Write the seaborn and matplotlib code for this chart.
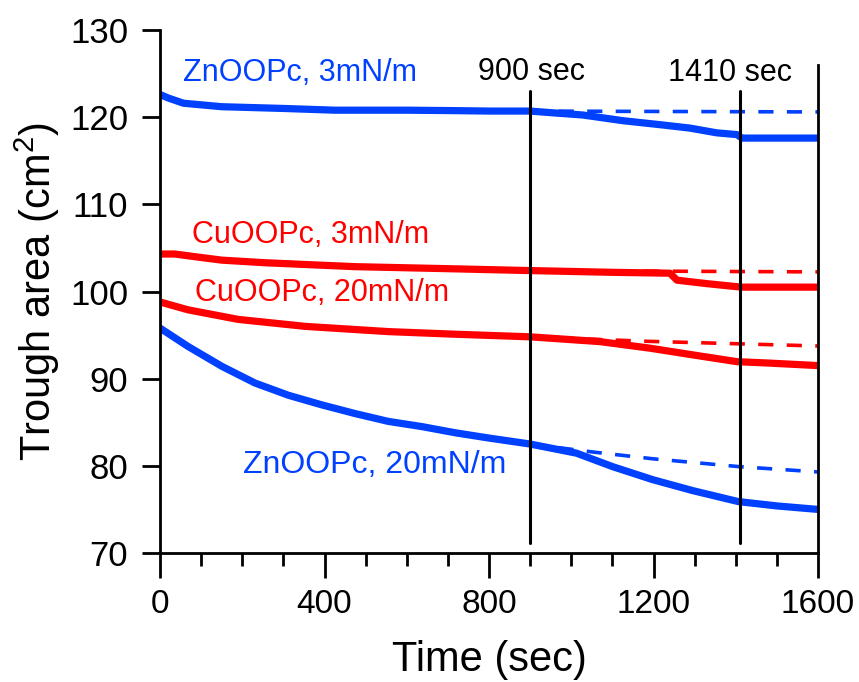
import numpy as np
import pandas as pd
import matplotlib
matplotlib.use("Agg")
import matplotlib.pyplot as plt
import seaborn as sns

# ---- data ----
zn3_t = [0, 20, 57, 150, 300, 425, 600, 717, 800, 900, 955, 1028, 1125, 1223, 1288, 1354, 1403, 1415, 1600]
zn3_v = [122.6, 122.2, 121.6, 121.2, 121.0, 120.8, 120.8, 120.75, 120.7, 120.7, 120.5, 120.25, 119.6, 119.1, 118.75, 118.2, 118.0, 117.6, 117.6]
zn3_fit_t = [900, 1600]
zn3_fit_v = [120.7, 120.6]

cu3_t = [0, 36, 100, 150, 255, 474, 717, 900, 1100, 1240, 1257, 1330, 1403, 1415, 1600]
cu3_v = [104.3, 104.3, 103.9, 103.6, 103.3, 102.85, 102.6, 102.4, 102.2, 102.1, 101.3, 100.9, 100.55, 100.5, 100.5]
cu3_fit_t = [900, 1600]
cu3_fit_v = [102.4, 102.25]

cu20_t = [0, 68, 190, 353, 555, 717, 900, 1070, 1191, 1313, 1403, 1476, 1600]
cu20_v = [98.8, 97.9, 96.8, 96.0, 95.4, 95.1, 94.8, 94.25, 93.5, 92.6, 91.95, 91.8, 91.5]
cu20_fit_t = [900, 1175, 1600]
cu20_fit_v = [94.8, 94.3, 93.75]

zn20_t = [0, 68, 151, 231, 312, 393, 474, 555, 637, 717, 798, 900, 1013, 1101, 1199, 1296, 1406, 1500, 1600]
zn20_v = [95.8, 93.7, 91.4, 89.5, 88.1, 87.0, 86.0, 85.1, 84.5, 83.8, 83.2, 82.5, 81.45, 79.9, 78.4, 77.15, 75.9, 75.4, 75.0]
zn20_fit_t = [900, 1050, 1200, 1410, 1600]
zn20_fit_v = [82.5, 81.6, 80.8, 79.9, 79.3]

marker_times = [900, 1410]
marker_labels = ["900 sec", "1410 sec"]
series_labels = ["ZnOOPc, 3mN/m", "CuOOPc, 3mN/m", "CuOOPc, 20mN/m", "ZnOOPc, 20mN/m"]

BLUE = "#0040ff"
RED = "#ff0000"

sns.set_theme(style="ticks")
plt.rcParams["font.family"] = ["Liberation Sans", "DejaVu Sans"]
plt.rcParams["mathtext.fontset"] = "custom"
plt.rcParams["mathtext.rm"] = "Liberation Sans"
for k in ["text.color", "axes.labelcolor", "xtick.color", "ytick.color",
          "xtick.labelcolor", "ytick.labelcolor", "axes.edgecolor"]:
    plt.rcParams[k] = "black"

fig = plt.figure(figsize=(8.59, 6.82), dpi=100)
ax = fig.add_axes([160 / 859, 129 / 682, 658 / 859, 523 / 682])

def draw(t, v, color, fit=False):
    df = pd.DataFrame({"t": t, "v": v})
    if fit:
        sns.lineplot(data=df, x="t", y="v", ax=ax, color=color, lw=2.6,
                     linestyle=(0, (4.2, 3.7)), estimator=None, sort=False)
    else:
        sns.lineplot(data=df, x="t", y="v", ax=ax, color=color, lw=5.2,
                     estimator=None, sort=False, solid_capstyle="butt")

draw(zn3_fit_t, zn3_fit_v, BLUE, fit=True)
draw(cu3_fit_t, cu3_fit_v, RED, fit=True)
draw(cu20_fit_t, cu20_fit_v, RED, fit=True)
draw(zn20_fit_t, zn20_fit_v, BLUE, fit=True)
draw(zn3_t, zn3_v, BLUE)
draw(cu3_t, cu3_v, RED)
draw(cu20_t, cu20_v, RED)
draw(zn20_t, zn20_v, BLUE)

for tm in marker_times:
    ax.plot([tm, tm], [71.15, 123.0], color="black", lw=2.2)

ax.set_xlim(0, 1600)
ax.set_ylim(70, 130)
ax.set_xticks([0, 400, 800, 1200, 1600])
ax.set_xticks(np.arange(0, 1601, 100), minor=True)
ax.set_yticks(np.arange(70, 131, 10))

ax.spines["top"].set_visible(False)
ax.spines["right"].set_bounds(70, 126.0)
for s in ["left", "bottom", "right"]:
    ax.spines[s].set_linewidth(2.0)
    ax.spines[s].set_color("black")

ax.tick_params(axis="x", which="major", direction="out", length=18, width=2.0,
               labelsize=24, pad=8, color="black", labelcolor="black")
ax.tick_params(axis="x", which="minor", direction="out", length=9, width=2.0, color="black")
ax.tick_params(axis="y", which="major", direction="out", length=13, width=2.0,
               labelsize=25, pad=10, color="black", labelcolor="black")
ax.tick_params(axis="y", which="minor", length=0)
ax.tick_params(right=False, top=False)

ax.set_xlabel("Time (sec)", fontsize=30, labelpad=14, color="black")
ax.set_ylabel("Trough area (cm$^2$)", fontsize=30, labelpad=6, color="black")

fs = 22
ax.text(56, 125.1, series_labels[0], color=BLUE, fontsize=fs, va="center", ha="left")
ax.text(78, 106.5, series_labels[1], color=RED, fontsize=fs, va="center", ha="left")
ax.text(85, 99.8, series_labels[2], color=RED, fontsize=fs, va="center", ha="left")
ax.text(202, 80.1, series_labels[3], color=BLUE, fontsize=23, va="center", ha="left")
ax.text(773, 125.2, marker_labels[0], color="black", fontsize=fs, va="center", ha="left")
ax.text(1235, 125.1, marker_labels[1], color="black", fontsize=fs, va="center", ha="left")

fig.savefig("out.png", dpi=100)
